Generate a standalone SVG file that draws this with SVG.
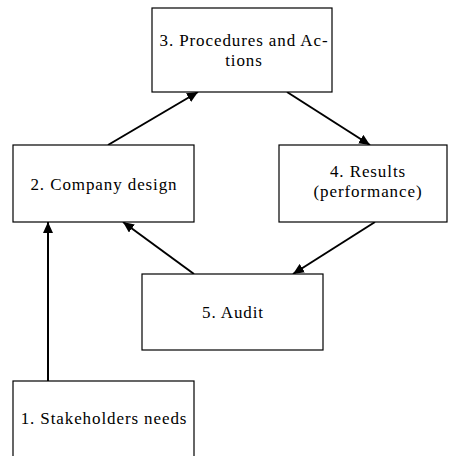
<svg xmlns="http://www.w3.org/2000/svg" width="449" height="456" viewBox="0 0 449 456">
<style>
.box{fill:#fff;stroke:#000;stroke-width:1.2}
.lbl{font-family:"Liberation Serif","Times New Roman",serif;font-size:17px;letter-spacing:0.9px;fill:#000;text-anchor:middle}
.conn{stroke:#000;stroke-width:2;fill:none;marker-end:url(#ah)}
</style>
<defs>
<marker id="ah" markerUnits="userSpaceOnUse" markerWidth="12" markerHeight="10" refX="11" refY="5" orient="auto">
<path d="M0,0 L11,5 L0,10 z" fill="#000"/>
</marker>
</defs>
<rect width="449" height="456" fill="#fff"/>
<g id="connectors">
<line class="conn" x1="48" y1="381" x2="48" y2="222"/>
<line class="conn" x1="108" y1="145" x2="198" y2="92"/>
<line class="conn" x1="287" y1="92" x2="370" y2="145"/>
<line class="conn" x1="375" y1="222" x2="293" y2="274"/>
<line class="conn" x1="194" y1="274" x2="123" y2="222"/>
</g>
<g id="node3">
<rect class="box" x="152" y="8" width="180" height="84"/>
<text class="lbl" x="244" y="46">3. Procedures and Ac-</text>
<text class="lbl" x="244" y="66">tions</text>
</g>
<g id="node2">
<rect class="box" x="13" y="145" width="181" height="77"/>
<text class="lbl" x="104" y="190">2. Company design</text>
</g>
<g id="node4">
<rect class="box" x="279" y="145" width="168" height="77"/>
<text class="lbl" x="368" y="177">4. Results</text>
<text class="lbl" x="368" y="197">(performance)</text>
</g>
<g id="node5">
<rect class="box" x="142" y="274" width="181" height="76"/>
<text class="lbl" x="233" y="318">5. Audit</text>
</g>
<g id="node1">
<rect class="box" x="13" y="381" width="181" height="80"/>
<text class="lbl" x="104" y="424">1. Stakeholders needs</text>
</g>
</svg>
